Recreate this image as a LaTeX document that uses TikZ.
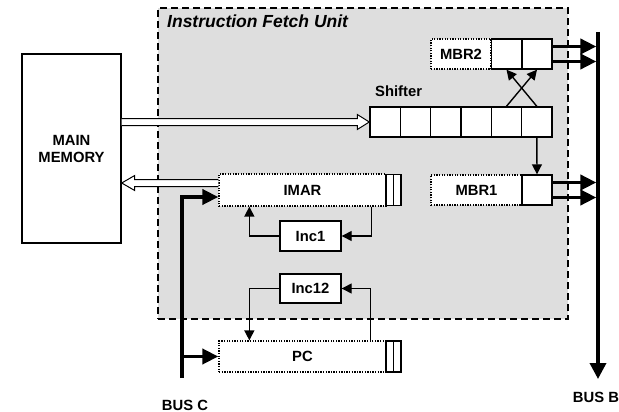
\documentclass[tikz,border=0pt]{standalone}
\usepackage{fontspec}
\setmainfont{Liberation Sans}
\usetikzlibrary{arrows.meta}
\usetikzlibrary{calc}

\tikzset{
  box/.style={draw=black, fill=white, line width=1.4pt, inner sep=0pt,
    font=\fontsize{14.8}{17}\selectfont\bfseries, align=center},
  dotbox/.style={box, line width=1.3pt, dash pattern=on 1.3pt off 1.3pt},
  cell/.style={box, minimum width=30.33pt, minimum height=30pt},
  slim/.style={box, minimum width=7.5pt, minimum height=31pt},
  link/.style={line width=1.4pt, -{Triangle[length=10pt, width=10pt]}},
  busarrow/.style={line width=3.8pt, miter limit=10, -{Triangle[length=16pt, width=15pt]}},
  hollow/.style={draw=black, fill=white, line width=1pt},
  label/.style={font=\fontsize{14.8}{17}\selectfont\bfseries, inner sep=0pt}
}

\begin{document}
\begin{tikzpicture}[x=1pt, y=-1pt]
        \useasboundingbox (0,0) rectangle (619,412);

        % Instruction fetch unit
        \node[draw=black, fill=black!13, line width=1.5pt, dash pattern=on 7pt off 4pt,
          minimum width=410pt, minimum height=311pt, inner sep=0pt] (ifu) at (363,163.5) {};
        \node[label, anchor=base west, font=\fontsize{17.5}{20}\selectfont\bfseries\itshape]
          (title) at (167,28) {Instruction Fetch Unit};

        % Main memory
        \node[box, minimum width=99pt, minimum height=189pt] (mem) at (71.5,148.5) {MAIN\\MEMORY};

        % Shifter cells
        \node[label, anchor=base west] (shlabel) at (375,96) {Shifter};
        \foreach \i in {1,...,6} {
          \node[cell] (s\i) at ({370+(\i-0.5)*30.33},122) {};
        }

        % MBR2 and MBR1
        \node[dotbox, minimum width=60pt, minimum height=30pt] (mbr2) at (461,54) {MBR2};
        \node[cell] (m2a) at (506.5,54) {};
        \node[cell] (m2b) at (537,54) {};
        \node[dotbox, minimum width=91pt, minimum height=30pt] (mbr1) at (476.5,190) {MBR1};
        \node[cell] (m1) at (537,190) {};

        % IMAR and PC
        \node[dotbox, minimum width=167pt, minimum height=32pt] (imar) at (302.5,190) {IMAR};
        \node[slim] (imarA) at (389.75,190) {};
        \node[slim] (imarB) at (397.25,190) {};
        \node[dotbox, minimum width=167pt, minimum height=31pt] (pc) at (302.5,356.5) {PC};
        \node[slim] (pcA) at (389.75,356.5) {};
        \node[slim] (pcB) at (397.25,356.5) {};

        % Incrementers
        \node[box, minimum width=61pt, minimum height=30pt] (inc1) at (310.5,236) {Inc1};
        \node[box, minimum width=61pt, minimum height=29pt] (inc12) at (310.5,288.5) {Inc12};

        % Memory data paths
        \draw[hollow] let \p1=(mem.east |- s1.west), \p2=(s1.west) in
          (\x1,\y1+3.5pt) -- (\x2-12pt,\y1+3.5pt) -- (\x2-12pt,\y1+7.5pt) -- (\x2,\y1)
          -- (\x2-12pt,\y1-7.5pt) -- (\x2-12pt,\y1-3.5pt) -- (\x1,\y1-3.5pt);
        \draw[hollow] let \p1=([yshift=7pt]imar.west), \p2=(mem.east) in
          (\x1,\y1+3.5pt) -- (\x2+13pt,\y1+3.5pt) -- (\x2+13pt,\y1+7.5pt) -- (\x2,\y1)
          -- (\x2+13pt,\y1-7.5pt) -- (\x2+13pt,\y1-3.5pt) -- (\x1,\y1-3.5pt);

        % Shifter outputs
        \draw[link] (s5.north) -- (m2b.south);
        \draw[link] (s6.north) -- (m2a.south);
        \draw[link] (s6.south) -- (m1.north);

        % Increment loops
        \draw[link] ([xshift=-15pt]imar.south east) |- (inc1.east);
        \draw[link] (inc1.west) -| ([xshift=31pt]imar.south west);
        \draw[link] ([xshift=-16pt]pc.north east) |- (inc12.east);
        \draw[link] (inc12.west) -| ([xshift=31pt]pc.north west);

        % Bus B
        \coordinate (busB) at (598,32);
        \coordinate (busBend) at (598,379);
        \foreach \r/\s in {m2b/7.5, m2b/-7.5, m1/7.5, m1/-7.5} {
          \coordinate (out) at ([yshift=\s pt]\r.east);
          \draw[busarrow, shorten >=1.6pt] (out) -- (out -| busB);
        }
        \draw[busarrow, line width=3.5pt, -{Triangle[length=16pt, width=16pt]}] (busB) -- (busBend);
        \node[label] (busBlabel) at (596,397.5) {BUS B};

        % Bus C
        \coordinate (busC) at (182,378);
        \draw[busarrow] (busC) |- ([yshift=-7pt]imar.west);
        \draw[busarrow] (busC |- pc.west) -- (pc.west);
        \node[label] (busClabel) at (185,405) {BUS C};

      \end{tikzpicture}
\end{document}
